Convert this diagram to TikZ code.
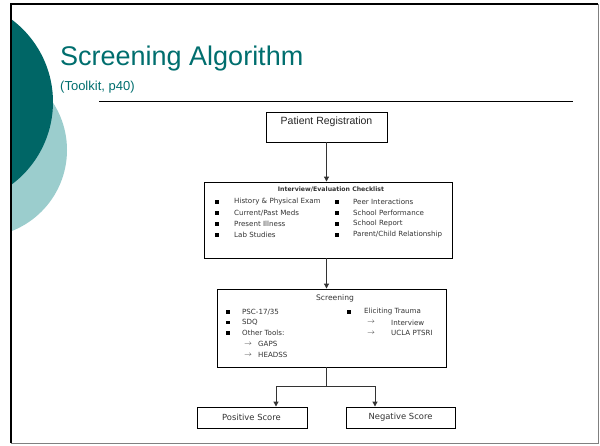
\documentclass[tikz,border=0pt]{standalone}
\usepackage{fontspec}
\setmainfont{Liberation Sans}
\newfontfamily\dfont{DejaVu Sans}
\usetikzlibrary{arrows.meta}
\definecolor{darkteal}{RGB}{0,102,102}
\definecolor{lightteal}{RGB}{155,205,205}
\definecolor{titleteal}{RGB}{0,110,110}
\begin{document}
\begin{tikzpicture}[x=1pt,y=-1pt,
  box/.style={draw=black, line width=0.9pt, inner sep=0pt, fill=white},
  txt/.style={inner sep=0pt, anchor=west, text=black!80, font=\dfont\fontsize{7.1}{8}\selectfont},
  ctxt/.style={inner sep=0pt, text=black!80, font=\dfont\fontsize{7.1}{8}\selectfont},
  sq/.style={fill=black, inner sep=0pt, minimum size=3.4pt},
  conn/.style={draw=black!80, line width=1pt},
  arr/.style={conn, -{Triangle[length=5pt,width=5pt]}}]
\useasboundingbox (0,0) rectangle (600,445);
\begin{scope}
\clip (12,5) rectangle (598,443);
\fill[lightteal] (-20,150) circle (87);
\fill[darkteal] (-50,102) circle (103);
\end{scope}
\draw[line width=2pt] (11,443) -- (11,4) -- (598,4);
\draw[gray, line width=1pt] (598,4) -- (598,443) -- (11,443);

\node[anchor=base west, inner sep=0pt, text=titleteal, font=\fontsize{27}{30}\selectfont] (title) at (60,65) {Screening Algorithm};
\node[anchor=base west, inner sep=0pt, text=titleteal, font=\fontsize{13}{15}\selectfont] (sub) at (60,90) {(Toolkit, p40)};
\draw[line width=0.8pt] (99,101) -- (573,101);

% boxes
\node[box, minimum width=121pt, minimum height=30pt] (reg) at (326.5,127) {};
\node[inner sep=0pt, text=black!85, font=\fontsize{10.5}{12}\selectfont] (regt) at (326.5,122) {Patient Registration};

\node[box, minimum width=248pt, minimum height=76pt] (chk) at (328,220) {};
\node[ctxt, font=\dfont\bfseries\fontsize{6.2}{7}\selectfont] (chkt) at (331,189) {Interview/Evaluation Checklist};
\foreach \y/\a/\b [count=\i] in {202/{History \& Physical Exam}/{Peer Interactions},
                       213/{Current/Past Meds}/{School Performance},
                       224/{Present Illness}/{School Report},
                       235/{Lab Studies}/{Parent/Child Relationship}}{
  \node[sq] (cb\i) at (217,\y) {};
  \node[txt] (ca\i) at (234,\y) {\a};
  \node[sq] (cd\i) at (337,\y) {};
  \node[txt] (ce\i) at (353,\y) {\b};
}

\node[box, minimum width=229pt, minimum height=78pt] (scr) at (331.5,328) {};
\node[ctxt, font=\dfont\fontsize{7.6}{8}\selectfont] (scrt) at (335,298) {Screening};
\node[sq] (s1) at (228,312) {};
\node[txt] (s1t) at (242,312) {PSC-17/35};
\node[sq] (s2) at (228,322.5) {};
\node[txt] (s2t) at (242,322.5) {SDQ};
\node[sq] (s3) at (228,333) {};
\node[txt] (s3t) at (242,333) {Other Tools:};
\node[txt] (s4a) at (244,344) {$\rightarrow$};
\node[txt] (s4t) at (258,344) {GAPS};
\node[txt] (s5a) at (244,355) {$\rightarrow$};
\node[txt] (s5t) at (258,355) {HEADSS};
\node[sq] (s6) at (349,312) {};
\node[txt] (s6t) at (364,312) {Eliciting Trauma};
\node[txt] (s7a) at (367,322.5) {$\rightarrow$};
\node[txt] (s7t) at (391,322.5) {Interview};
\node[txt] (s8a) at (367,333) {$\rightarrow$};
\node[txt] (s8t) at (391,333) {UCLA PTSRI};

\node[box, minimum width=110pt, minimum height=21pt] (pos) at (252,417.5) {};
\node[ctxt, font=\dfont\fontsize{8.4}{9}\selectfont] (post) at (251.5,417) {Positive Score};
\node[box, minimum width=109pt, minimum height=21pt] (neg) at (400.5,417.5) {};
\node[ctxt, font=\dfont\fontsize{8.4}{9}\selectfont] (negt) at (400.5,417) {Negative Score};

% connectors
\draw[arr] (reg.south) -- (reg.south |- chk.north);
\draw[arr] (reg.south |- chk.south) -- (reg.south |- scr.north);
\coordinate (split) at (326.5,386);
\draw[conn] (reg.south |- scr.south) -- (split);
\draw[arr] (split) -| ([xshift=24pt]pos.north);
\draw[arr] (split) -| ([xshift=-25.5pt]neg.north);
\end{tikzpicture}
\end{document}
